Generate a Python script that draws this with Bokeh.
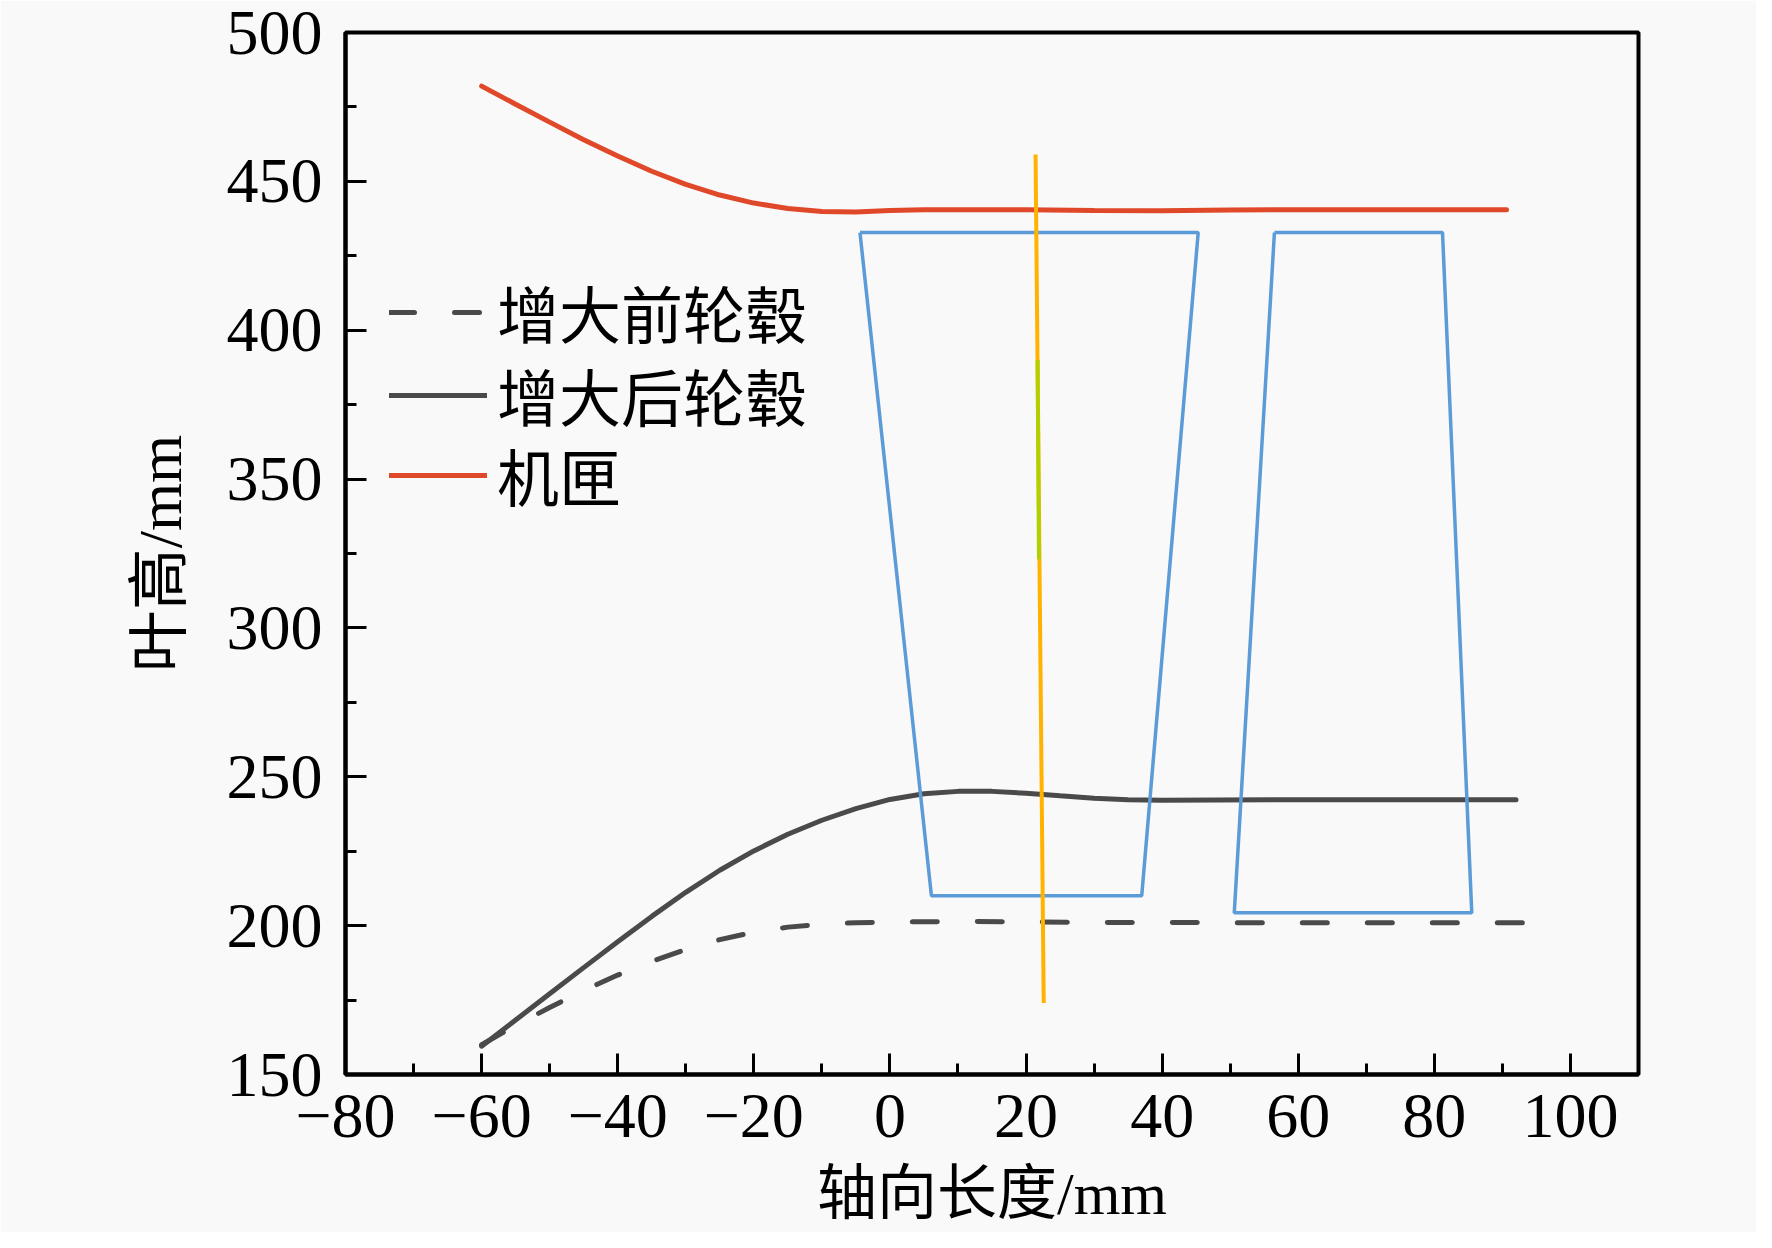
from bokeh.plotting import figure
from bokeh.models import Range1d, SingleIntervalTicker, Legend, LegendItem
from bokeh.embed import file_html
from bokeh.resources import INLINE

# ---- data ----
x_ticks = [-80, -60, -40, -20, 0, 20, 40, 60, 80, 100]
x_tick_labels = ["\u221280", "\u221260", "\u221240", "\u221220", "0", "20", "40", "60", "80", "100"]
y_ticks = [150, 200, 250, 300, 350, 400, 450, 500]
y_tick_labels = ["150", "200", "250", "300", "350", "400", "450", "500"]

hub_before_x = [-60, -55, -50, -45, -40, -35, -30, -25, -20, -15, -10, -5, 0, 10, 20, 30, 50, 70, 94]
hub_before_y = [160, 166.5, 172.5, 178.2, 183.4, 188, 192, 195.3, 197.8, 199.5, 200.5, 201, 201.2,
                201.4, 201.3, 201.1, 201, 201, 201]

hub_after_x = [-60, -55, -50, -45, -40, -35, -30, -25, -20, -15, -10, -5, 0, 5, 10, 15, 20, 25, 30,
               35, 40, 60, 80, 92]
hub_after_y = [159.5, 168.3, 177.1, 185.9, 194.6, 203.1, 211.2, 218.6, 225.1, 230.7, 235.4, 239.3,
               242.4, 244.3, 245.1, 245.1, 244.5, 243.6, 242.8, 242.3, 242.1, 242.3, 242.3, 242.3]

casing_x = [-60, -55, -50, -45, -40, -35, -30, -25, -20, -15, -10, -5, 0, 5, 10, 20, 30, 40, 50, 60,
            70, 80, 90.6]
casing_y = [482, 475.9, 469.9, 464, 458.5, 453.4, 449, 445.4, 442.7, 440.9, 439.9, 439.7, 440.2, 440.5,
            440.5, 440.5, 440.2, 440.1, 440.4, 440.5, 440.5, 440.5, 440.5]

blade1_x = [-4.4, 45.3, 37.0, 6.1, -4.4]
blade1_y = [432.8, 432.8, 210.0, 210.0, 432.8]
blade2_x = [56.5, 81.2, 85.5, 50.6, 56.5]
blade2_y = [432.8, 432.8, 204.3, 204.3, 432.8]

divider_x = [21.4, 22.6]
divider_y = [459, 174]
divider_mid_x = [21.7, 21.9]
divider_mid_y = [390, 323]

legend_labels = ["增大前轮毂", "增大后轮毂", "机匣"]

SERIF = "'Liberation Serif', 'Noto Sans CJK SC'"
BG = "#f9f9f9"

p = figure(width=1756, height=1232,
           x_range=Range1d(-80, 110), y_range=Range1d(150, 500),
           output_backend="svg", toolbar_location=None,
           min_border_left=345, min_border_right=118,
           min_border_top=32, min_border_bottom=158)

p.background_fill_color = BG
p.border_fill_color = BG
p.grid.visible = False
p.outline_line_color = "black"
p.outline_line_width = 4
p.outline_line_alpha = 1

p.xaxis.ticker = SingleIntervalTicker(interval=20, num_minor_ticks=2)
p.yaxis.ticker = SingleIntervalTicker(interval=50, num_minor_ticks=2)
p.xaxis.major_label_overrides = {t: l for t, l in zip(x_ticks, x_tick_labels)}
p.yaxis.major_label_overrides = {t: l for t, l in zip(y_ticks, y_tick_labels)}

for ax in (p.xaxis[0], p.yaxis[0]):
    ax.axis_line_width = 4
    ax.axis_line_color = "black"
    ax.major_tick_in = 21
    ax.major_tick_out = 0
    ax.minor_tick_in = 11
    ax.minor_tick_out = 0
    ax.major_tick_line_width = 3
    ax.minor_tick_line_width = 3
    ax.major_tick_line_color = "black"
    ax.minor_tick_line_color = "black"
    ax.major_label_text_font = "Liberation Serif"
    ax.major_label_text_font_size = "64px"
    ax.major_label_text_line_height = 1.0
    ax.major_label_text_color = "black"
    ax.axis_label_text_font = SERIF
    ax.axis_label_text_font_size = "62px"
    ax.axis_label_text_line_height = 1.0
    ax.axis_label_text_font_style = "normal"
    ax.axis_label_text_color = "black"

p.xaxis.axis_label = "轴向长度/mm"
p.yaxis.axis_label = "叶高/mm"
p.xaxis.axis_label_text_font_size = "60px"
p.xaxis.major_label_standoff = 20
p.yaxis.major_label_standoff = 23
p.xaxis.axis_label_standoff = 21
p.yaxis.axis_label_standoff = 30

BLUE = "#5b9bd8"
GRAY = "#4a4a4a"
RED = "#e0482a"

r_before = p.line(hub_before_x, hub_before_y, line_color=GRAY, line_width=5,
                  line_dash="25 40", line_cap="round")
r_after = p.line(hub_after_x, hub_after_y, line_color=GRAY, line_width=5, line_cap="round")
r_casing = p.line(casing_x, casing_y, line_color=RED, line_width=5, line_cap="round")

p.line(blade1_x, blade1_y, line_color=BLUE, line_width=3.5)
p.line(blade2_x, blade2_y, line_color=BLUE, line_width=3.5)
p.line(divider_x, divider_y, line_color="#ffb300", line_width=4)
p.line(divider_mid_x, divider_mid_y, line_color="#b2d000", line_width=4)

# one legend box per entry so the row spacing can follow the reference
for label, rend, y_off in zip(legend_labels, [r_before, r_after, r_casing], [712, 629, 549]):
    lg = Legend(items=[LegendItem(label=label, renderers=[rend])], location=(44, y_off))
    lg.border_line_color = None
    lg.background_fill_alpha = 0
    lg.padding = 0
    lg.margin = 0
    lg.spacing = 0
    lg.glyph_width = 98
    lg.glyph_height = 100
    lg.label_height = 100
    lg.label_standoff = 10
    lg.label_text_font = SERIF
    lg.label_text_font_size = "62px"
    lg.label_text_color = "black"
    p.add_layout(lg, "center")

open("out.html", "w").write(file_html(p, INLINE))
